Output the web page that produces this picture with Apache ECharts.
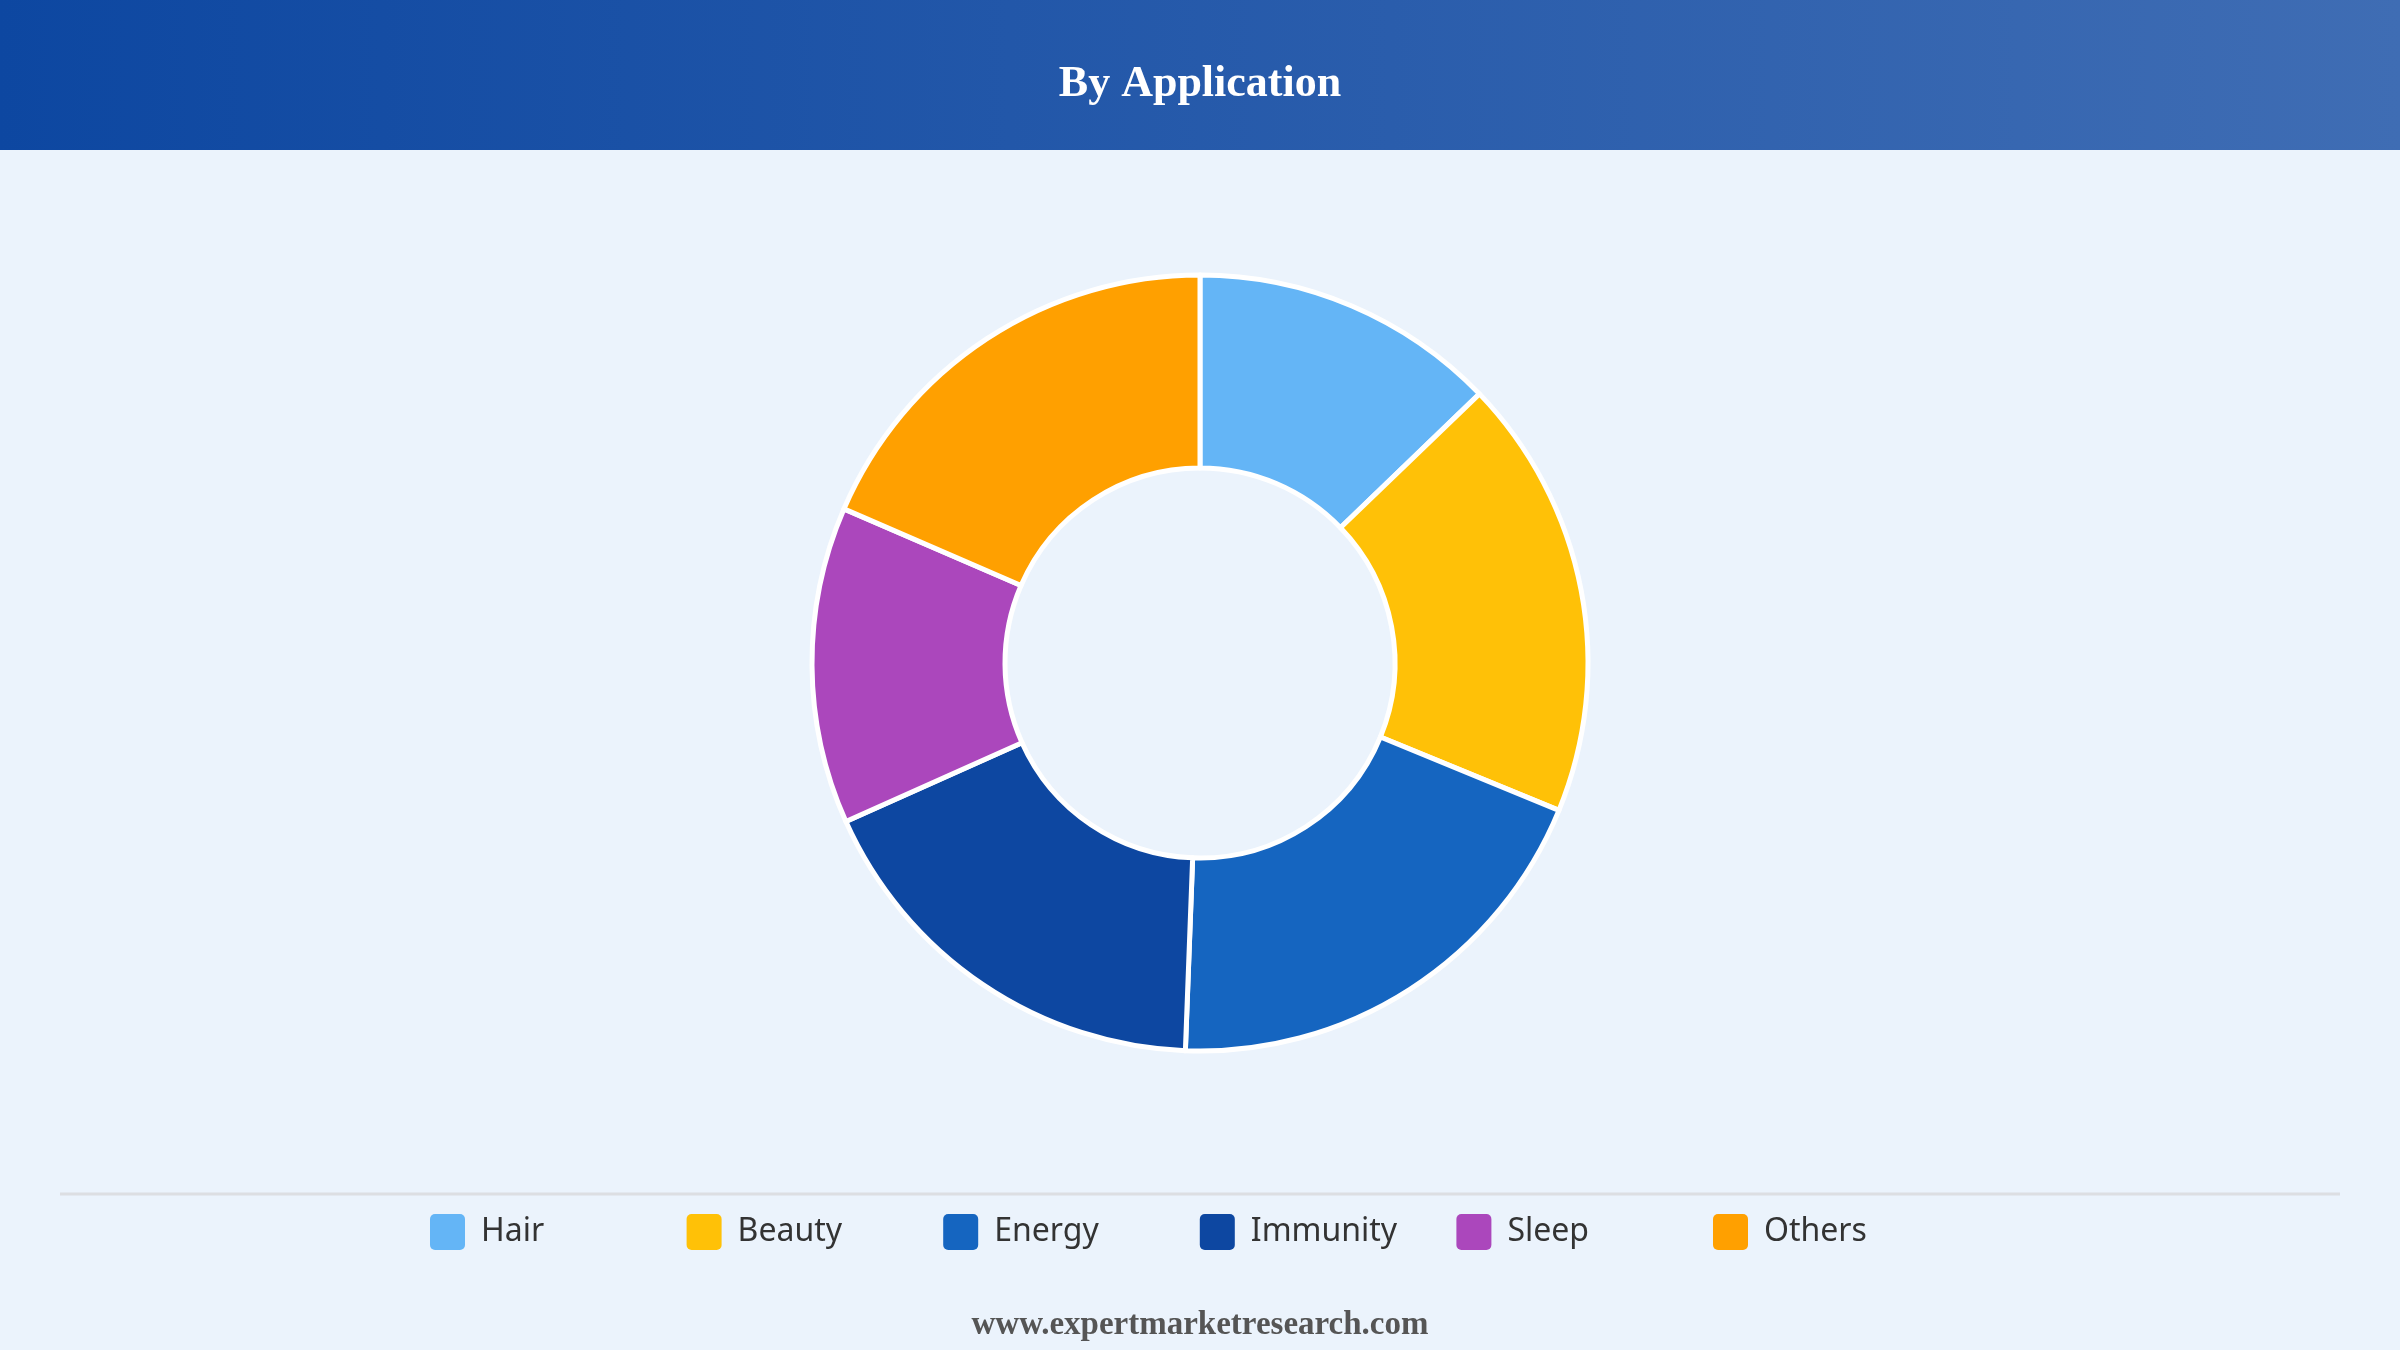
<!DOCTYPE html>
<html>
<head>
<meta charset="utf-8">
<script src="https://cdn.jsdelivr.net/npm/echarts@6/dist/echarts.min.js"></script>
<style>
  html, body { margin: 0; padding: 0; background: #EBF3FC; }
  #chart { width: 2400px; height: 1350px; }
</style>
</head>
<body>
<div id="chart"></div>
<script>
const titleText = 'By Application';
const footerText = 'www.expertmarketresearch.com';
const categories = ['Hair', 'Beauty', 'Energy', 'Immunity', 'Sleep', 'Others'];
const shares = [12.8, 18.4, 19.4, 17.7, 13.2, 18.5];
const colors = ['#64B5F6', '#FFC107', '#1565C0', '#0D47A1', '#AB47BC', '#FFA000'];

const chart = echarts.init(document.getElementById('chart'));
const iconPath = 'path://M5,0 H30 A5,5 0 0 1 35,5 V31 A5,5 0 0 1 30,36 H5 A5,5 0 0 1 0,31 V5 A5,5 0 0 1 5,0 Z';

const legends = categories.map((name, i) => ({
  data: [name],
  left: 430 + i * 256.6,
  top: 1212,
  padding: 0,
  orient: 'horizontal',
  selectedMode: false,
  icon: iconPath,
  itemWidth: 35,
  itemHeight: 36,
  itemStyle: { borderWidth: 0 },
  textStyle: {
    fontFamily: 'Noto Sans',
    fontSize: 32,
    color: '#333333',
    lineHeight: 36,
    padding: [0, 0, 4, 11]
  }
}));

chart.setOption({
  backgroundColor: '#EBF3FC',
  color: colors,
  graphic: [
    {
      type: 'rect',
      z: 0,
      shape: { x: 0, y: 0, width: 2400, height: 150 },
      style: {
        fill: new echarts.graphic.LinearGradient(0, 0, 1, 0, [
          { offset: 0, color: '#0D47A1' },
          { offset: 1, color: '#3F6DB4' }
        ])
      }
    },
    {
      type: 'line',
      z: 0,
      shape: { x1: 60, y1: 1194, x2: 2340, y2: 1194 },
      style: { stroke: '#DCDEE2', lineWidth: 3 }
    }
  ],
  title: [
    {
      text: titleText,
      left: 'center',
      top: 55,
      textStyle: {
        fontFamily: 'Liberation Serif',
        fontWeight: 'bold',
        fontSize: 44,
        lineHeight: 50,
        color: '#FFFFFF'
      }
    },
    {
      text: footerText,
      left: 'center',
      top: 1300,
      textStyle: {
        fontFamily: 'Liberation Serif',
        fontWeight: 'bold',
        fontSize: 33,
        lineHeight: 40,
        color: '#555555'
      }
    }
  ],
  legend: legends,
  series: [
    {
      type: 'pie',
      center: [1200, 663],
      radius: [195, 388],
      startAngle: 90,
      clockwise: true,
      label: { show: false },
      labelLine: { show: false },
      emphasis: { disabled: true },
      itemStyle: { borderColor: '#FFFFFF', borderWidth: 5 },
      data: categories.map((name, i) => ({ name, value: shares[i] }))
    }
  ]
});
</script>
</body>
</html>
